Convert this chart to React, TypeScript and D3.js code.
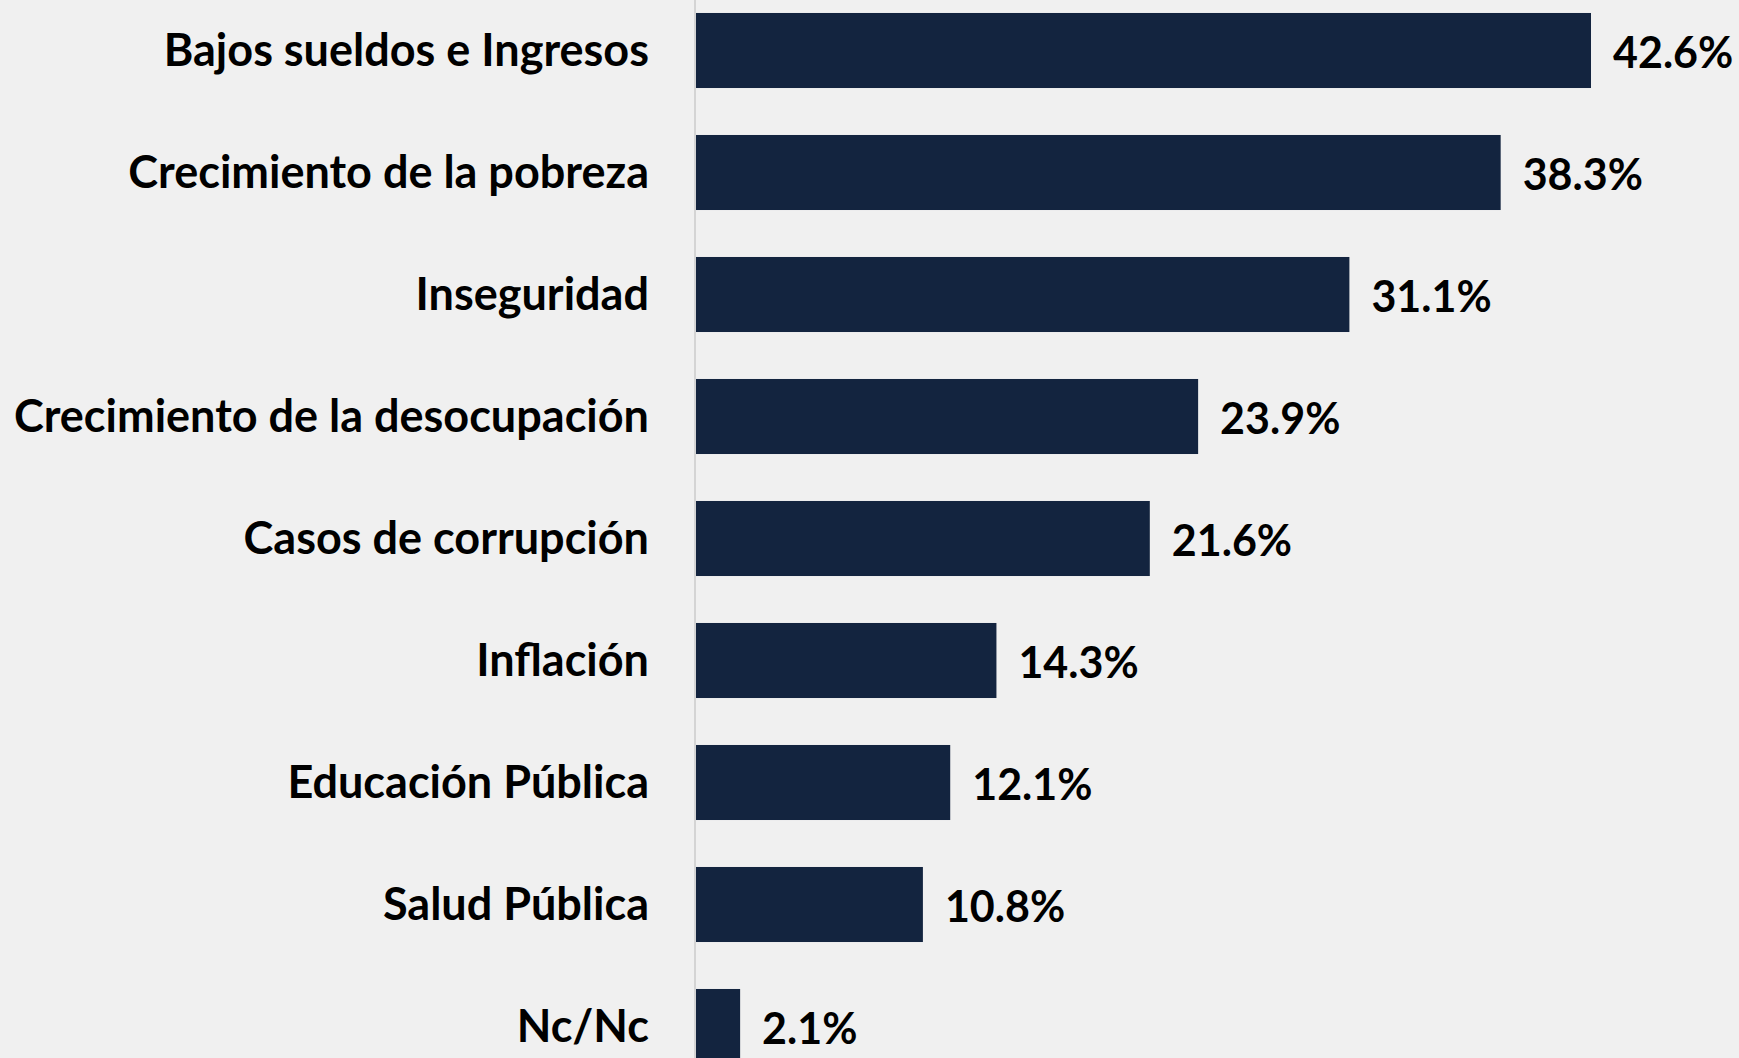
import React from "react";
import * as d3 from "d3";

const categories = [
  "Bajos sueldos e Ingresos",
  "Crecimiento de la pobreza",
  "Inseguridad",
  "Crecimiento de la desocupación",
  "Casos de corrupción",
  "Inflación",
  "Educación Pública",
  "Salud Pública",
  "Nc/Nc",
];
const values = [42.6, 38.3, 31.1, 23.9, 21.6, 14.3, 12.1, 10.8, 2.1];

const W = 1739;
const H = 1058;

export default function App() {
  const x0 = 696;
  const x = d3.scaleLinear().domain([0, 42.6]).range([x0, 1591]);
  const y = d3
    .scaleBand<string>()
    .domain(categories)
    .range([-10.5, -10.5 + 122 * 9])
    .paddingInner(0.385)
    .paddingOuter(0.385 / 2);
  const font = "Lato, 'Open Sans', sans-serif";
  return (
    <div style={{ position: "fixed", left: 0, top: 0, width: W, height: H, background: "#f0f0f0" }}>
      <svg width={W} height={H} style={{ display: "block" }}>
        <rect x={0} y={0} width={W} height={H} fill="#f0f0f0" />
        <line x1={x0 - 1} x2={x0 - 1} y1={0} y2={H} stroke="#d4d4d4" strokeWidth={2} />
        {categories.map((c, i) => {
          const yy = y(c)!;
          const bh = y.bandwidth();
          return (
            <g key={c}>
              <rect x={x0} y={yy} width={x(values[i]) - x0} height={bh} fill="#13243f" />
              <text
                x={649}
                y={yy + bh / 2}
                dy="0.35em"
                textAnchor="end"
                fontFamily={font}
                fontWeight={700}
                fontSize={45}
                fill="#000"
              >
                {c}
              </text>
              <text
                x={x(values[i]) + 22}
                y={yy + bh / 2 + 2}
                dy="0.35em"
                fontFamily={font}
                fontWeight={700}
                fontSize={43}
                fill="#000"
              >
                {values[i].toFixed(1) + "%"}
              </text>
            </g>
          );
        })}
      </svg>
    </div>
  );
}
